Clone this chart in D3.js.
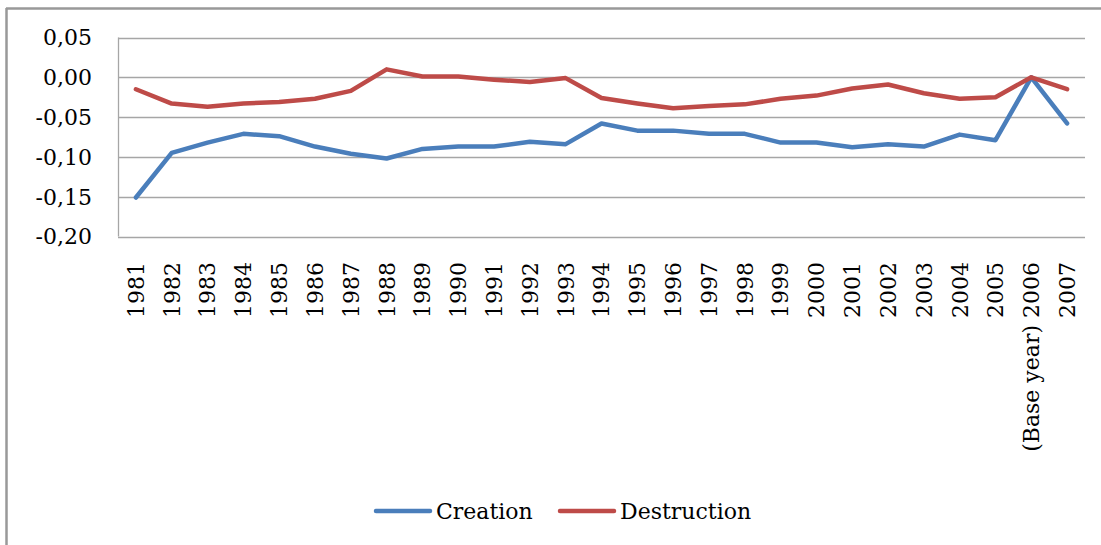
<!DOCTYPE html>
<html>
<head>
<meta charset="utf-8">
<script src="https://cdn.jsdelivr.net/npm/d3@7/dist/d3.min.js"></script>
<style>
  html, body { margin: 0; padding: 0; background: #fff; }
  svg { display: block; }
  text { font-family: "DejaVu Serif", serif; fill: #000; }
</style>
</head>
<body>
<svg id="chart" width="1101" height="545"></svg>
<script>
const years = ["1981","1982","1983","1984","1985","1986","1987","1988","1989","1990","1991","1992","1993","1994","1995","1996","1997","1998","1999","2000","2001","2002","2003","2004","2005","(Base year) 2006","2007"];
const creation = [-0.151,-0.095,-0.082,-0.071,-0.074,-0.087,-0.096,-0.102,-0.090,-0.087,-0.087,-0.081,-0.084,-0.058,-0.067,-0.067,-0.071,-0.071,-0.082,-0.082,-0.088,-0.084,-0.087,-0.072,-0.079,0.000,-0.058];
const destruction = [-0.015,-0.033,-0.037,-0.033,-0.031,-0.027,-0.017,0.010,0.001,0.001,-0.003,-0.006,-0.001,-0.026,-0.033,-0.039,-0.036,-0.034,-0.027,-0.023,-0.014,-0.009,-0.020,-0.027,-0.025,0.000,-0.015];
const yTicks = [0.05, 0.00, -0.05, -0.10, -0.15, -0.20];
const seriesNames = ["Creation", "Destruction"];
const seriesColors = ["#4a7ebb", "#be4b48"];

const svg = d3.select("#chart");
const plot = { left: 118, right: 1085, top: 37.5, bottom: 236.5 };

const x = d3.scaleBand().domain(years).range([plot.left, plot.right]);
const y = d3.scaleLinear().domain([-0.2, 0.05]).range([plot.bottom, plot.top]);
const cx = d => x(d) + x.bandwidth() / 2;

// outer frame (top & left edges visible)
svg.append("line").attr("x1", 6).attr("x2", 1101).attr("y1", 8.5).attr("y2", 8.5)
  .attr("stroke", "#999").attr("stroke-width", 2.5);
svg.append("line").attr("x1", 6.5).attr("x2", 6.5).attr("y1", 8).attr("y2", 545)
  .attr("stroke", "#999").attr("stroke-width", 2.5);

// gridlines
svg.append("g").selectAll("line").data(yTicks).join("line")
  .attr("x1", plot.left).attr("x2", plot.right)
  .attr("y1", d => Math.round(y(d)) + 0.5).attr("y2", d => Math.round(y(d)) + 0.5)
  .attr("stroke", "#a6a6a6").attr("stroke-width", 1.3);

// left axis line
svg.append("line").attr("x1", plot.left + 0.5).attr("x2", plot.left + 0.5)
  .attr("y1", y(0.05)).attr("y2", y(-0.2))
  .attr("stroke", "#a6a6a6").attr("stroke-width", 1.3);

// y labels
const fmt = d => d3.format(".2f")(d).replace("−", "-").replace(".", ",");
svg.append("g").selectAll("text").data(yTicks).join("text")
  .attr("x", 92).attr("y", d => y(d))
  .attr("dy", "0.36em")
  .attr("text-anchor", "end")
  .style("font-size", "22px")
  .text(d => fmt(d));

// x labels
svg.append("g").selectAll("text").data(years).join("text")
  .attr("transform", d => `translate(${cx(d)},262) rotate(-90)`)
  .attr("dy", "0.36em")
  .attr("text-anchor", "end")
  .style("font-size", "22px")
  .text(d => d);

// lines
const line = d3.line().x((d, i) => cx(years[i])).y(d => y(d));
[creation, destruction].forEach((s, i) => {
  svg.append("path").datum(s)
    .attr("fill", "none")
    .attr("stroke", seriesColors[i])
    .attr("stroke-width", 4.5)
    .attr("stroke-linejoin", "round")
    .attr("stroke-linecap", "round")
    .attr("d", line);
});

// legend
const legendX = [376, 560];
const lg = svg.append("g").selectAll("g").data(seriesNames).join("g")
  .attr("transform", (d, i) => `translate(${legendX[i]},511)`);
lg.append("line").attr("x1", 0).attr("x2", 54).attr("y1", 0).attr("y2", 0)
  .attr("stroke", (d, i) => seriesColors[i]).attr("stroke-width", 4.5).attr("stroke-linecap", "round");
lg.append("text").attr("x", 60).attr("y", 0).attr("dy", "0.36em")
  .style("font-size", "22px").text(d => d);
</script>
</body>
</html>
